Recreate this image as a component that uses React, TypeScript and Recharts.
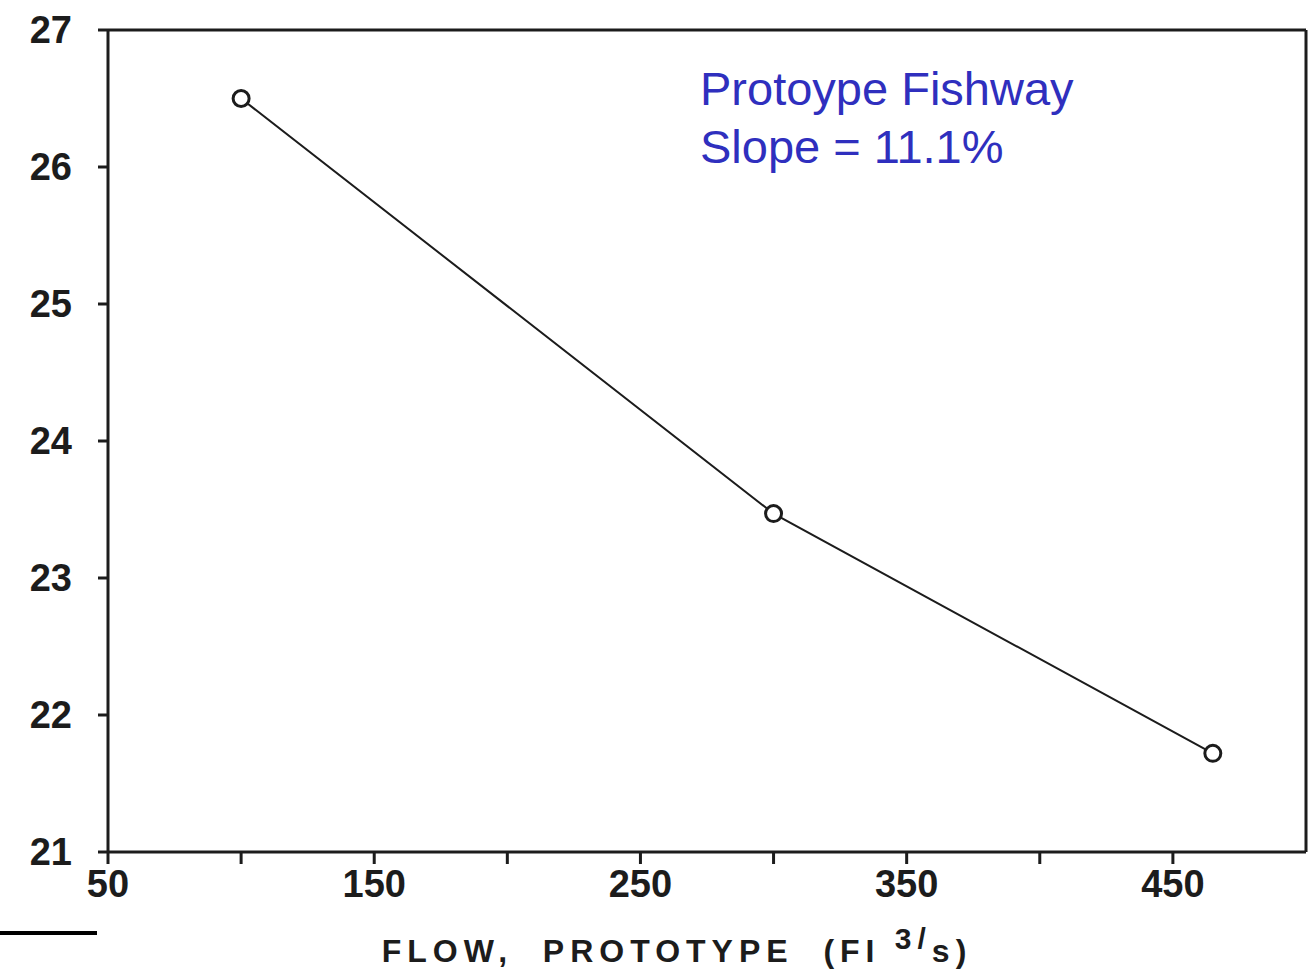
import { LineChart, Line, XAxis, YAxis, ReferenceLine, Label } from "recharts"

// flow (ft3/s) vs. value
const flows = [100, 300, 465]
const values = [26.5, 23.47, 21.72]

const xTicks = [50, 100, 150, 200, 250, 300, 350, 400, 450]
const xLabelled = [50, 150, 250, 350, 450]
const yTicks = [21, 22, 23, 24, 25, 26, 27]

const data = flows.map((flow, i) => ({ flow, value: values[i] }))

const ink = "#1c1c1c"
const font = "'Liberation Sans', Arial, sans-serif"

function AxisTitle(props: any) {
  const vb = props.viewBox || {}
  const cx = vb.x + vb.width / 2 - 30
  return (
    <text x={cx} y={962} textAnchor="middle" fontFamily={font} fontWeight="bold" fontSize={32} fill={ink} letterSpacing={6}>
      FLOW,&#160;&#160;PROTOTYPE&#160;&#160;(FI
      <tspan dy={-13} fontSize={30}> 3/</tspan>
      <tspan dy={13}>s)</tspan>
    </text>
  )
}

export default function App() {
  return (
    <div style={{ position: "absolute", left: 0, top: 0, width: 1316, height: 974, background: "#fff" }}>
      <LineChart width={1316} height={974} data={data} margin={{ top: 30, right: 10, left: 0, bottom: 62 }}>
        <XAxis
          dataKey="flow"
          type="number"
          domain={[50, 500]}
          ticks={xTicks}
          interval={0}
          tickFormatter={(v: number) => (xLabelled.includes(v) ? String(v) : "")}
          tick={{ fontSize: 38, fontWeight: "bold", fill: ink, fontFamily: font }}
          tickSize={12}
          tickMargin={6}
          axisLine={{ stroke: ink, strokeWidth: 3 }}
          tickLine={{ stroke: ink, strokeWidth: 3 }}
          height={60}
        >
          <Label content={AxisTitle} />
        </XAxis>
        <YAxis
          type="number"
          domain={[21, 27]}
          ticks={yTicks}
          interval={0}
          width={108}
          tick={{ fontSize: 38, fontWeight: "bold", fill: ink, fontFamily: font }}
          tickSize={10}
          tickMargin={26}
          axisLine={{ stroke: ink, strokeWidth: 3 }}
          tickLine={{ stroke: ink, strokeWidth: 3 }}
        />
        <ReferenceLine y={27} stroke={ink} strokeWidth={3} />
        <ReferenceLine x={500} stroke={ink} strokeWidth={3} />
        <Line
          type="linear"
          dataKey="value"
          stroke={ink}
          strokeWidth={2}
          dot={{ r: 8, stroke: ink, strokeWidth: 3, fill: "#fff" }}
          activeDot={false}
          isAnimationActive={false}
        />
      </LineChart>
      <div
        style={{
          position: "absolute",
          left: 700,
          top: 60,
          color: "#2f2fbe",
          fontFamily: font,
          fontSize: 47,
          lineHeight: "58px",
        }}
      >
        Protoype Fishway
        <br />
        Slope = 11.1%
      </div>
      <div style={{ position: "absolute", left: 0, top: 931, width: 97, height: 4, background: "#000" }} />
    </div>
  )
}
